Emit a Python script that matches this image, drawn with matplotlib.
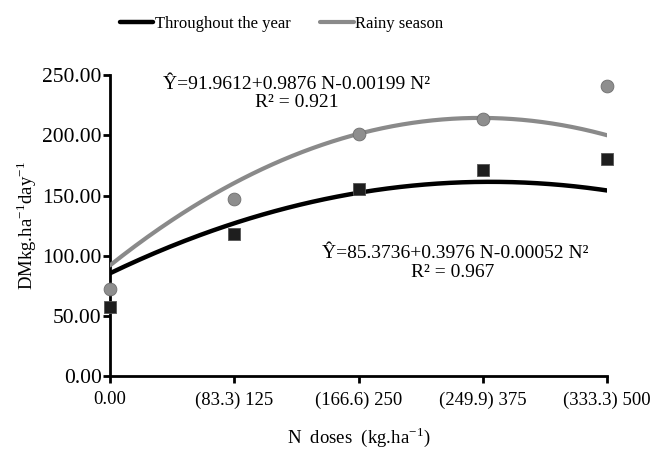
import numpy as np
import matplotlib
matplotlib.use("Agg")
import matplotlib.pyplot as plt

# N dose positions on the axis and the labels shown under them
dose_pos = [0, 125, 250, 375, 500]
dose_n = [0, 83.3, 166.6, 249.9, 333.3]
tick_labels = ["0.00", "(83.3) 125", "(166.6) 250", "(249.9) 375", "(333.3) 500"]

# observed dry matter (kg/ha/day)
year_dm = [57, 118, 155, 171, 180]
rainy_dm = [72, 147, 201, 214, 241]

# fitted quadratic coefficients (a, b, c) from the equations on the chart
year_coef = [85.3736, 0.3976, -0.00052]
rainy_coef = [91.9612, 0.9876, -0.00199]

plt.rcParams["font.family"] = ["Liberation Serif", "DejaVu Serif"]
plt.rcParams["mathtext.fontset"] = "stix"

fig = plt.figure(figsize=(6.55, 4.53), dpi=100)
ax = fig.add_axes([0.168, 0.170, 0.759, 0.664])

xs = np.linspace(0, 500, 200)
# black trend uses N on the 0-500 scale, grey one on the 0-333.3 scale
n_rainy = np.interp(xs, dose_pos, dose_n)
y_year = year_coef[0] + year_coef[1] * xs + year_coef[2] * xs ** 2
y_rainy = rainy_coef[0] + rainy_coef[1] * n_rainy + rainy_coef[2] * n_rainy ** 2

l1, = ax.plot(xs, y_year, color="black", lw=3.2, solid_capstyle="round", zorder=3)
l2, = ax.plot(xs, y_rainy, color="#8a8a8a", lw=3.0, solid_capstyle="round", zorder=3)

ax.scatter(dose_pos, year_dm, marker="s", s=70, color="#1e1e1e",
           edgecolors="#555555", linewidths=0.6, zorder=4, clip_on=False)
ax.scatter(dose_pos, rainy_dm, marker="o", s=85, color="#8e8e8e",
           edgecolors="#6e6e6e", linewidths=0.6, zorder=4, clip_on=False)

ax.set_xlim(0, 500)
ax.set_ylim(0, 250)
ax.set_xticks(dose_pos)
ax.set_xticklabels(tick_labels, fontsize=13.5)
ax.set_yticks([0, 50, 100, 150, 200, 250])
ax.set_yticklabels(["%.2f" % v for v in [0, 50, 100, 150, 200, 250]], fontsize=15.5)

for s in ["top", "right"]:
    ax.spines[s].set_visible(False)
for s in ["left", "bottom"]:
    ax.spines[s].set_linewidth(2)
ax.tick_params(axis="both", width=2, length=5, direction="out", colors="black")
ax.tick_params(axis="x", pad=6)
ax.tick_params(axis="y", pad=1)

ax.set_xlabel(r"N  doses  (kg.ha$^{\mathregular{-1}}$)", fontsize=13.5, labelpad=12)
ax.set_ylabel(r"DMkg.ha$^{\mathregular{-1}}$day$^{\mathregular{-1}}$", fontsize=13.5, labelpad=2)

ax.text(188, 242, "Ŷ=91.9612+0.9876 N-0.00199 N²", ha="center", va="center", fontsize=14)
ax.text(188, 227, "R² = 0.921", ha="center", va="center", fontsize=14)
ax.text(347, 102, "Ŷ=85.3736+0.3976 N-0.00052 N²", ha="center", va="center", fontsize=14)
ax.text(345, 86, "R² = 0.967", ha="center", va="center", fontsize=14)

fig.legend([l1, l2], ["Throughout the year", "Rainy season"], loc="center",
           bbox_to_anchor=(0.43, 0.948), ncol=2, frameon=False, fontsize=12,
           handlelength=2.0, handletextpad=0.1, columnspacing=1.8)

fig.savefig("out.png", dpi=100)
